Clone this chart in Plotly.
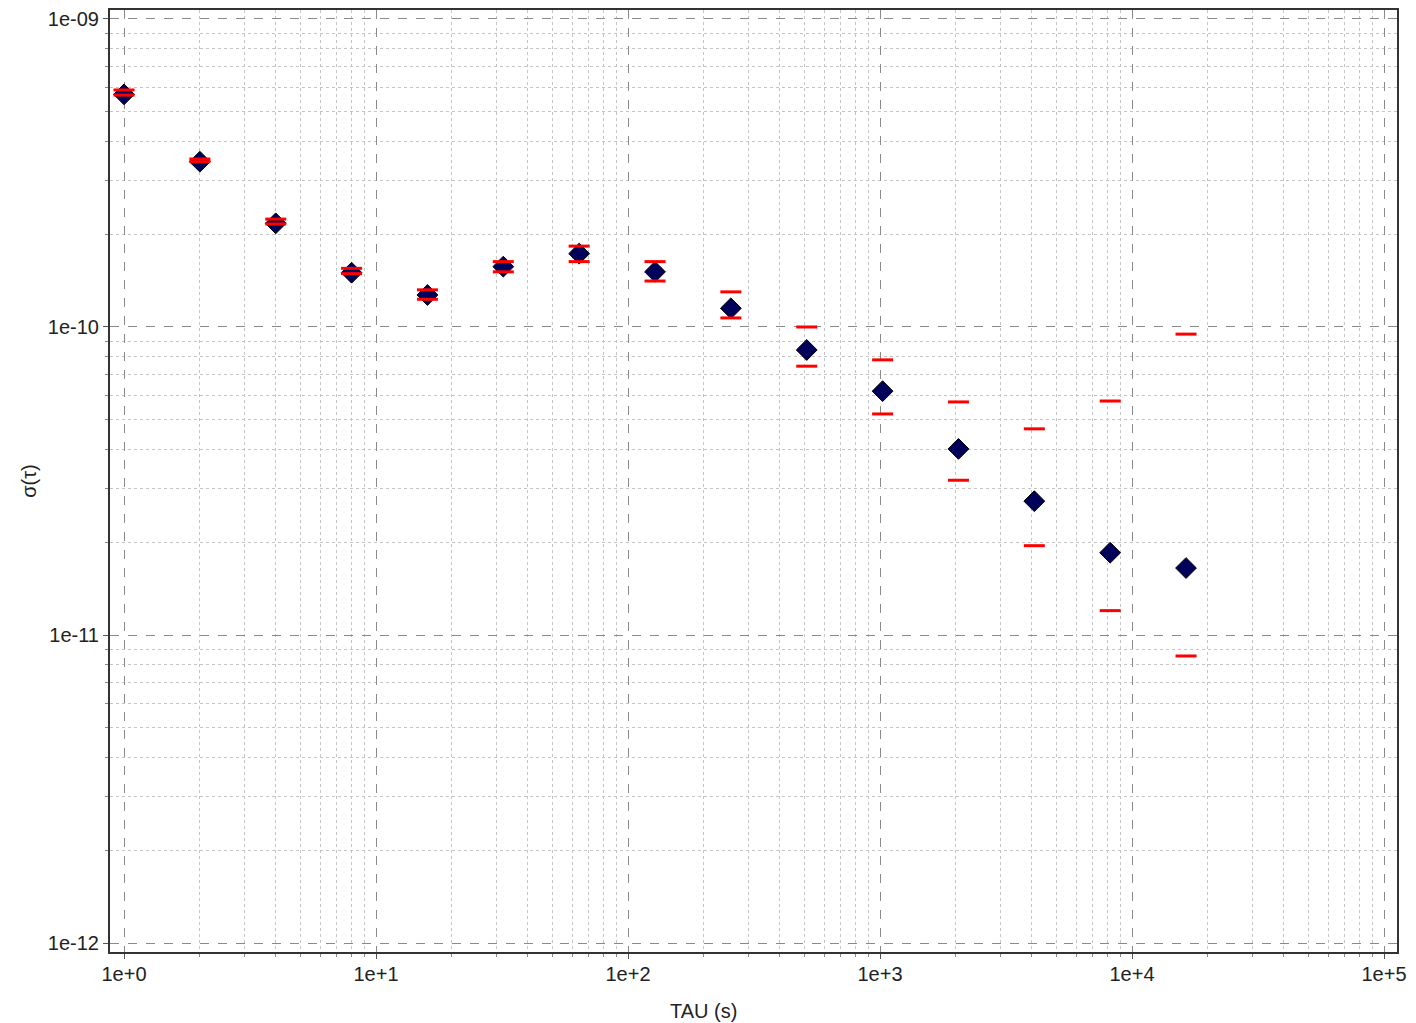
import plotly.graph_objects as go

tau = [1, 2, 4, 8, 16, 32, 64, 128, 256, 512, 1024, 2048, 4096, 8192, 16384]
sigma = [5.69e-10, 3.44e-10, 2.17e-10, 1.50e-10, 1.27e-10, 1.57e-10, 1.73e-10, 1.51e-10,
         1.15e-10, 8.42e-11, 6.19e-11, 4.02e-11, 2.72e-11, 1.85e-11, 1.65e-11]
upper = [5.88e-10, 3.51e-10, 2.24e-10, 1.55e-10, 1.32e-10, 1.63e-10, 1.83e-10, 1.63e-10,
         1.30e-10, 1.00e-10, 7.82e-11, 5.71e-11, 4.67e-11, 5.75e-11, 9.48e-11]
lower = [5.66e-10, 3.44e-10, 2.16e-10, 1.49e-10, 1.23e-10, 1.51e-10, 1.63e-10, 1.41e-10,
         1.07e-10, 7.46e-11, 5.22e-11, 3.18e-11, 1.95e-11, 1.20e-11, 8.55e-12]

xticks = [1, 10, 100, 1000, 10000, 100000]
xticktext = ["1e+0", "1e+1", "1e+2", "1e+3", "1e+4", "1e+5"]
yticks = [1e-9, 1e-10, 1e-11, 1e-12]
yticktext = ["1e-09", "1e-10", "1e-11", "1e-12"]

x_minor = [k * 10.0 ** n for n in range(0, 5) for k in range(2, 10)]
y_minor = [k * 10.0 ** n for n in range(-12, -9) for k in range(2, 10)]

fig = go.Figure()
fig.add_trace(go.Scatter(x=tau, y=sigma, mode="markers",
                         marker=dict(symbol="diamond", size=16, color="#00005a",
                                     line=dict(color="black", width=1))))
for b in (upper, lower):
    fig.add_trace(go.Scatter(x=tau, y=b, mode="markers",
                             marker=dict(symbol="line-ew", size=15,
                                         line=dict(color="#ff0000", width=3))))

font = dict(family="Liberation Sans, Arial, sans-serif", size=20, color="#222")


def axis_common(minor_vals):
    return dict(type="log", showline=True, linecolor="#333", linewidth=2, mirror=True,
                ticks="outside", ticklen=5, tickcolor="#555", zeroline=False,
                showgrid=True, gridcolor="#8a8a8a", griddash="dash", gridwidth=1,
                minor=dict(tickmode="array", tickvals=minor_vals, ticks="outside", ticklen=3,
                           tickcolor="#888", showgrid=True,
                           gridcolor="#c4c4c4", griddash="dot", gridwidth=1),
                tickfont=font)


fig.update_xaxes(**axis_common(x_minor), range=[-0.0556, 5.0516],
                 tickmode="array", tickvals=xticks, ticktext=xticktext,
                 ticklabelstandoff=-2)
fig.update_yaxes(**axis_common(y_minor), range=[-12.029, -8.971],
                 tickmode="array", tickvals=yticks, ticktext=yticktext,
                 title=dict(text="σ(τ)", font=font, standoff=6))

fig.add_annotation(text="TAU (s)", xref="paper", yref="paper", x=0.4615, y=0,
                   yshift=-59, showarrow=False, font=font, xanchor="center", yanchor="middle")

fig.update_layout(width=1416, height=1023, showlegend=False,
                  margin=dict(l=110, r=19, t=8, b=71),
                  plot_bgcolor="white", paper_bgcolor="white", font=font)
fig.write_html("out.html")
